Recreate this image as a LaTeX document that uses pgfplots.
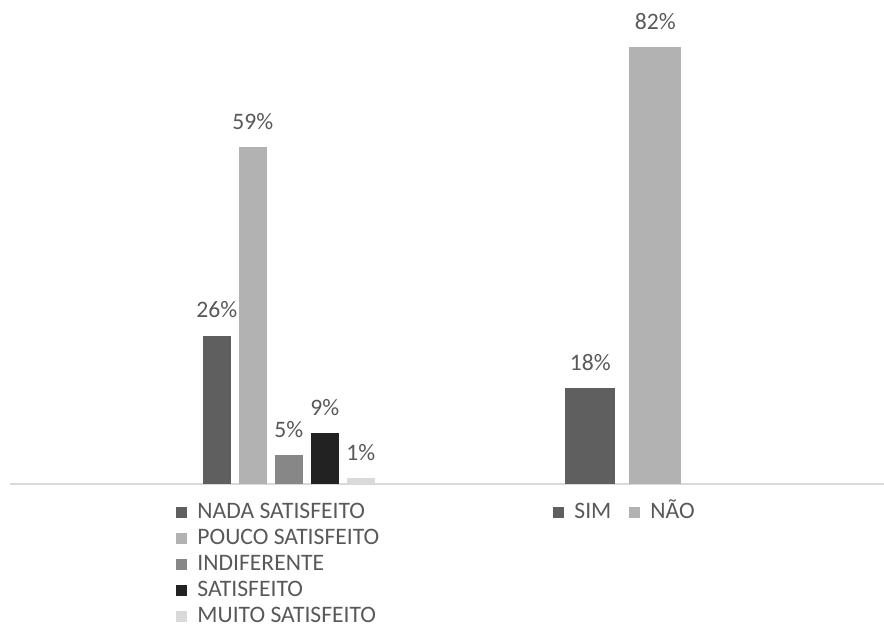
\documentclass[border=0pt]{standalone}
\usepackage{pgfplots}
\pgfplotsset{compat=1.18}
\usepackage{fontspec}
\setmainfont{Carlito}
\definecolor{cNada}{HTML}{5F5F5F}
\definecolor{cPouco}{HTML}{B2B2B2}
\definecolor{cInd}{HTML}{878787}
\definecolor{cSat}{HTML}{222222}
\definecolor{cMuito}{HTML}{DADADA}
\definecolor{basegray}{HTML}{D9D9D9}
\definecolor{txtgray}{HTML}{595959}
\pgfplotsset{
  mybase/.style={
    scale only axis, width=437pt, height=242pt,
    xmin=0.167, xmax=2.779, ymin=0,
    xtick=\empty, ytick=\empty,
    clip=false,
    ybar,
    /pgf/number format/assume math mode=true,
    nodes near coords={\pgfmathprintnumber{\pgfplotspointmeta}\%},
    every node near coord/.append style={font=\fontsize{11.8}{13}\selectfont, text=txtgray, inner sep=0pt, yshift=8.5pt},
    legend image code/.code={\fill[##1] (0pt,-2.75pt) rectangle (5.5pt,2.75pt);},
    legend style={draw=none, fill=none, inner sep=0pt, anchor=north west,
      font=\fontsize{11.8}{13}\selectfont, text=txtgray,
      nodes={inner sep=0pt, text height=8pt, text depth=2pt},
      row sep=3pt,
      /tikz/every odd column/.append style={column sep=5pt},
      /tikz/every even column/.append style={column sep=9pt}},
    legend cell align=left,
  }
}
\begin{document}
\begin{tikzpicture}
\useasboundingbox (0,0) rectangle (442pt,314pt);
\begin{axis}[mybase, at={(5pt,72pt)}, anchor=south west,
  ymax=84.76,
  axis y line=none, axis x line=bottom,
  x axis line style={-, draw=basegray, line width=1pt},
  legend style={at={(0.19,-0.037)}}]
\addplot[fill=cNada, draw=none, bar width=14pt, bar shift=-36pt] coordinates {(1,26)};
\addplot[fill=cPouco, draw=none, bar width=14pt, bar shift=-18pt] coordinates {(1,59)};
\addplot[fill=cInd, draw=none, bar width=14pt, bar shift=0pt] coordinates {(1,5)};
\addplot[fill=cSat, draw=none, bar width=14pt, bar shift=18pt] coordinates {(1,9)};
\addplot[fill=cMuito, draw=none, bar width=14pt, bar shift=36pt] coordinates {(1,1)};
\legend{NADA SATISFEITO, POUCO SATISFEITO, INDIFERENTE, SATISFEITO, MUITO SATISFEITO}
\end{axis}
\begin{axis}[mybase, at={(5pt,72pt)}, anchor=south west,
  ymax=90.8,
  axis lines=none,
  legend columns=2,
  legend style={at={(0.6213,-0.037)}}]
\addplot[fill=cNada, draw=none, bar width=25pt, bar shift=-16.5pt] coordinates {(2,18)};
\addplot[fill=cPouco, draw=none, bar width=26pt, bar shift=16pt] coordinates {(2,82)};
\legend{SIM, NÃO}
\end{axis}
\end{tikzpicture}
\end{document}
